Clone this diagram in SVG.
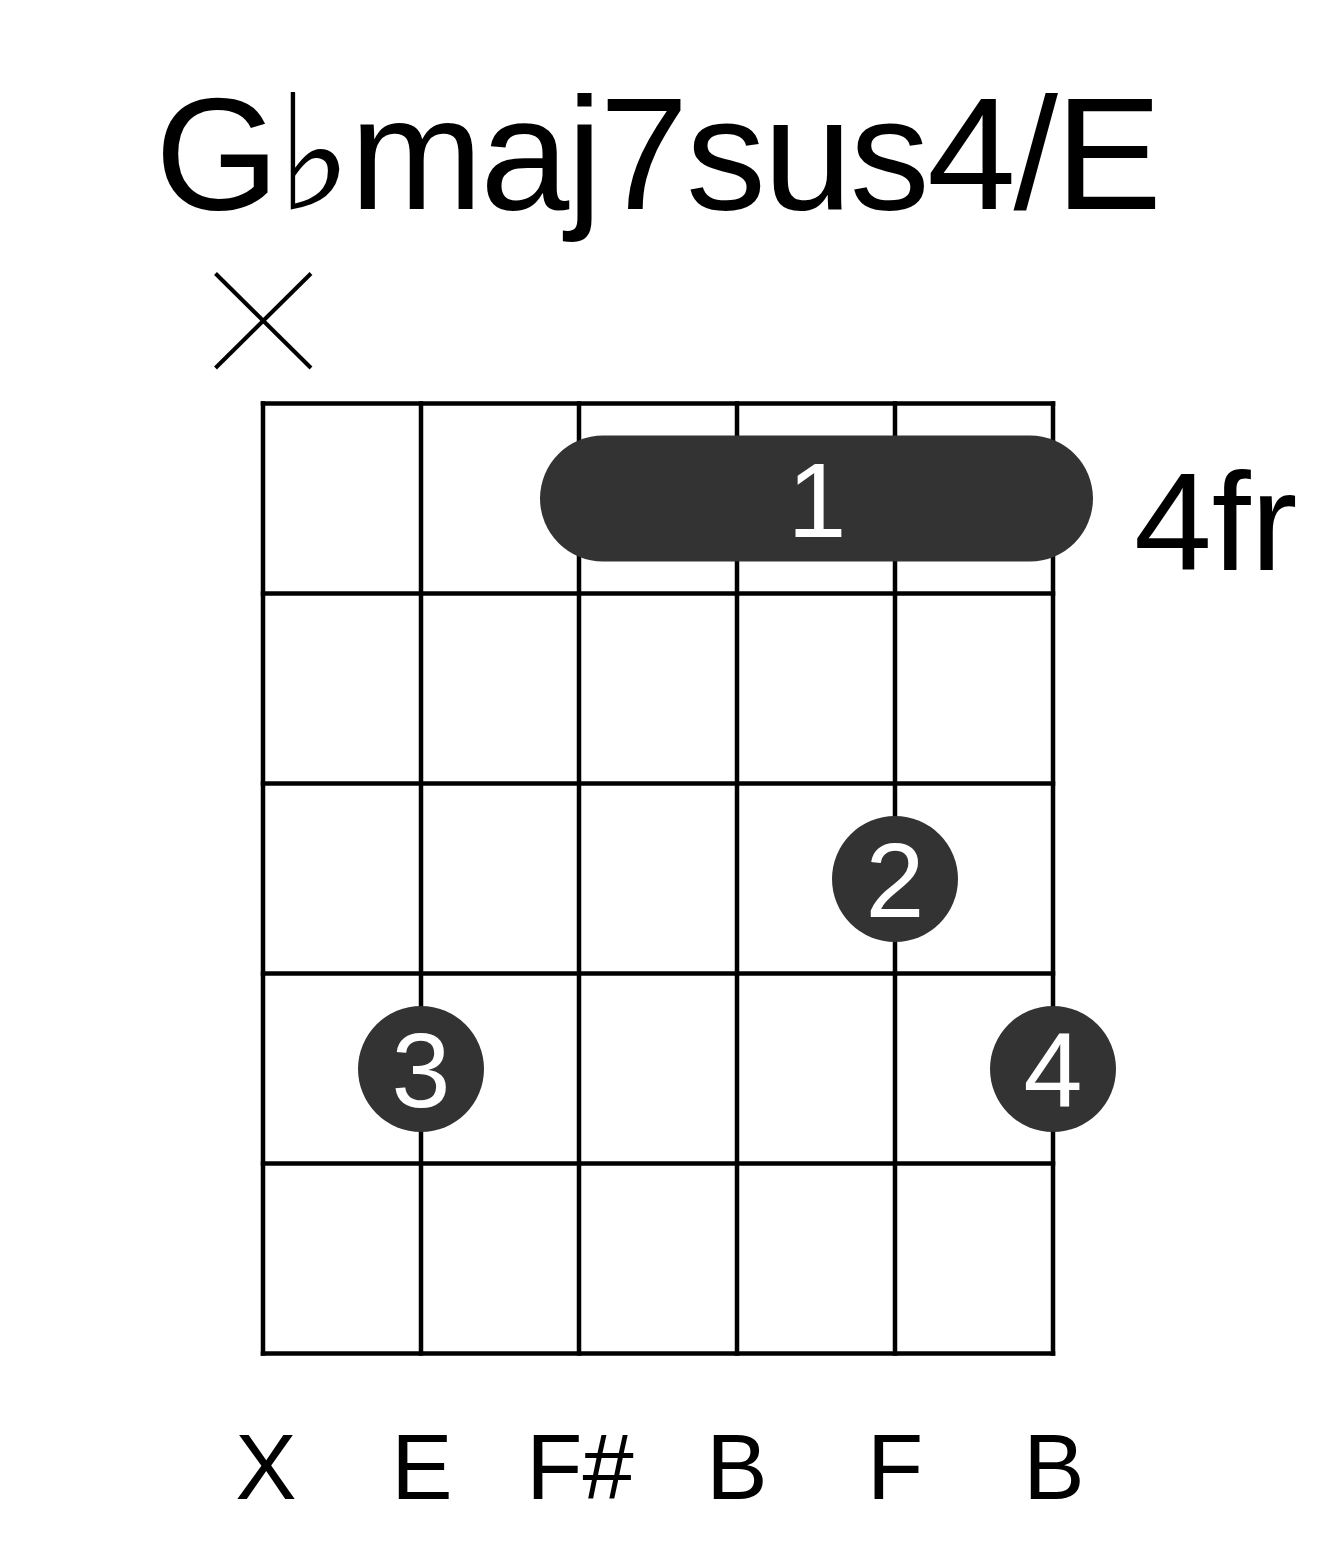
<svg xmlns="http://www.w3.org/2000/svg" width="1317" height="1551" viewBox="0 0 1317 1551">
<style>
.grid line{stroke:#000;stroke-width:4.5;stroke-linecap:square}
.mute line{stroke:#000;stroke-width:4}
.dot{fill:#333333}
.fn{font-family:"Liberation Sans",Arial,sans-serif;font-size:106px;fill:#fff;text-anchor:middle}
.lbl{font-family:"Liberation Sans",Arial,sans-serif;font-size:92px;fill:#000;text-anchor:middle}
.title{font-family:"Liberation Sans","DejaVu Sans",Arial,sans-serif;font-size:160px;fill:#000;text-anchor:middle}
.fr{font-family:"Liberation Sans",Arial,sans-serif;font-size:140px;fill:#000}
</style>
<rect width="1317" height="1551" fill="#fff"/>
<g id="title"><text class="title" x="658.5" y="209" textLength="1007" lengthAdjust="spacing">G♭maj7sus4/E</text></g>
<g id="mute-string-1" class="mute">
<line x1="215.5" y1="273.5" x2="311" y2="368"/>
<line x1="311" y1="273.5" x2="215.5" y2="368"/>
</g>
<g id="fretboard" class="grid">
<line x1="263" y1="403.5" x2="1053" y2="403.5"/>
<line x1="263" y1="593.5" x2="1053" y2="593.5"/>
<line x1="263" y1="783.5" x2="1053" y2="783.5"/>
<line x1="263" y1="973.5" x2="1053" y2="973.5"/>
<line x1="263" y1="1163.5" x2="1053" y2="1163.5"/>
<line x1="263" y1="1353.5" x2="1053" y2="1353.5"/>
<line x1="263" y1="403.5" x2="263" y2="1353.5"/>
<line x1="421" y1="403.5" x2="421" y2="1353.5"/>
<line x1="579" y1="403.5" x2="579" y2="1353.5"/>
<line x1="737" y1="403.5" x2="737" y2="1353.5"/>
<line x1="895" y1="403.5" x2="895" y2="1353.5"/>
<line x1="1053" y1="403.5" x2="1053" y2="1353.5"/>
</g>
<g id="barre-1">
<rect class="dot" x="540" y="435.5" width="553" height="126" rx="63" ry="63"/>
<text class="fn" x="817" y="537">1</text>
</g>
<g id="finger-2">
<circle class="dot" cx="895" cy="879" r="63"/>
<text class="fn" x="895" y="917">2</text>
</g>
<g id="finger-3">
<circle class="dot" cx="421" cy="1069" r="63"/>
<text class="fn" x="421" y="1107">3</text>
</g>
<g id="finger-4">
<circle class="dot" cx="1053" cy="1069" r="63"/>
<text class="fn" x="1053" y="1107">4</text>
</g>
<g id="fret-label"><text class="fr" x="1134" y="570">4fr</text></g>
<g id="notes">
<text class="lbl" x="266" y="1499">X</text>
<text class="lbl" x="422" y="1499">E</text>
<text class="lbl" x="580" y="1499">F#</text>
<text class="lbl" x="737" y="1499">B</text>
<text class="lbl" x="895" y="1499">F</text>
<text class="lbl" x="1054" y="1499">B</text>
</g>
<g id="connectors"></g>
</svg>
